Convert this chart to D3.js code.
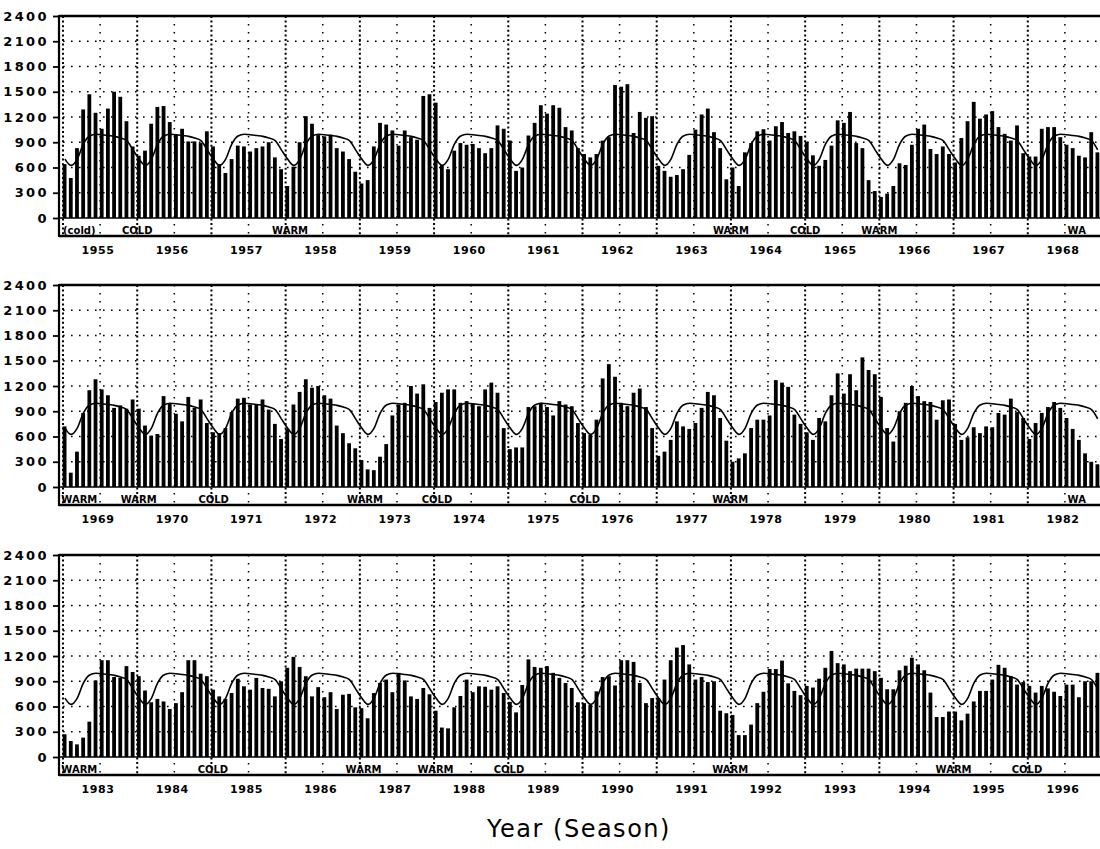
<!DOCTYPE html>
<html>
<head>
<meta charset="utf-8">
<script src="https://cdn.jsdelivr.net/npm/d3@7"></script>
<style>
body { margin: 0; background: #fff; }
svg text { font-family: "DejaVu Sans", sans-serif; fill: #000; }
</style>
</head>
<body>
<svg id="chart" width="1100" height="849"></svg>
<script>
// monthly values, one row per year (Jan..Dec)
var counts1955 = [
  640, 475, 830, 1290, 1470, 1250, 1060, 1300, 1500, 1440, 1150, 850,   // 1955
  740, 800, 1120, 1320, 1330, 1140, 990, 1060, 910, 910, 890, 1030,     // 1956
  850, 640, 535, 700, 860, 850, 790, 830, 850, 900, 720, 580,           // 1957
  380, 610, 900, 1210, 1120, 985, 970, 990, 830, 790, 700, 550,         // 1958
  410, 450, 850, 1130, 1110, 1040, 860, 1040, 960, 930, 1450, 1470,     // 1959
  1370, 630, 580, 800, 890, 870, 880, 830, 770, 830, 1100, 1060,        // 1960
  920, 560, 600, 980, 1130, 1340, 1240, 1340, 1310, 1080, 1040, 830,    // 1961
  760, 720, 760, 920, 960, 1580, 1560, 1590, 1010, 1260, 1190, 1210,    // 1962
  620, 560, 490, 510, 580, 750, 1050, 1230, 1300, 1020, 830, 460,       // 1963
  600, 380, 780, 890, 1030, 1055, 920, 1090, 1140, 1010, 1030, 975,     // 1964
  905, 745, 620, 690, 860, 1160, 1130, 1260, 890, 830, 450, 320,        // 1965
  250, 290, 380, 650, 630, 870, 1060, 1110, 820, 760, 850, 760,         // 1966
  660, 950, 1150, 1380, 1180, 1230, 1270, 1080, 1000, 920, 1100, 770,   // 1967
  730, 730, 1060, 1080, 1080, 960, 870, 830, 740, 720, 1020, 780        // 1968
];
var counts1969 = [
  720, 170, 420, 880, 1150, 1280, 1160, 1090, 940, 970, 930, 1040,      // 1969
  930, 730, 610, 630, 1080, 990, 870, 780, 1070, 940, 1040, 760,        // 1970
  650, 640, 700, 890, 1050, 1060, 980, 980, 1040, 920, 750, 570,        // 1971
  690, 980, 1130, 1280, 1180, 1200, 1090, 1050, 730, 640, 520, 460,     // 1972
  320, 210, 200, 360, 510, 850, 980, 1000, 1200, 1110, 1220, 940,       // 1973
  1010, 1120, 1160, 1160, 1000, 1020, 990, 960, 1160, 1240, 1120, 700,  // 1974
  450, 470, 470, 950, 960, 1000, 950, 850, 1020, 980, 960, 760,         // 1975
  640, 620, 800, 1290, 1460, 1310, 1000, 960, 1120, 1170, 950, 700,     // 1976
  370, 420, 560, 780, 720, 690, 760, 940, 1130, 1090, 820, 550,         // 1977
  300, 340, 400, 700, 800, 800, 850, 1270, 1240, 1190, 860, 750,        // 1978
  650, 560, 820, 780, 1090, 1350, 1110, 1340, 1150, 1540, 1390, 1340,   // 1979
  1070, 700, 540, 900, 1000, 1200, 1080, 1020, 1010, 800, 1030, 1040,   // 1980
  750, 560, 590, 710, 640, 720, 710, 880, 860, 1050, 890, 820,          // 1981
  570, 760, 880, 950, 1010, 940, 820, 690, 560, 400, 300, 270           // 1982
];
var counts1983 = [
  270, 190, 150, 230, 420, 910, 1150, 1150, 950, 940, 1080, 1010,       // 1983
  960, 790, 650, 690, 660, 570, 640, 770, 1150, 1150, 990, 960,         // 1984
  800, 720, 690, 760, 930, 840, 800, 940, 820, 810, 720, 900,           // 1985
  1060, 1190, 1070, 960, 720, 830, 710, 770, 570, 740, 750, 590,        // 1986
  580, 460, 760, 880, 920, 770, 1000, 910, 720, 690, 820, 745,          // 1987
  550, 350, 340, 590, 725, 920, 770, 840, 835, 800, 840, 760,           // 1988
  655, 530, 855, 1160, 1070, 1060, 1080, 1000, 940, 880, 820, 650,      // 1989
  640, 620, 780, 950, 960, 850, 1150, 1150, 1130, 880, 640, 700,        // 1990
  700, 920, 1150, 1300, 1330, 1100, 920, 950, 890, 900, 550, 520,       // 1991
  500, 260, 260, 385, 640, 775, 1045, 1045, 1145, 875, 785, 735,        // 1992
  845, 825, 930, 1060, 1260, 1115, 1100, 1020, 1050, 1050, 1050, 1020,  // 1993
  940, 805, 805, 1030, 1085, 1180, 1100, 1030, 765, 475, 475, 540,      // 1994
  540, 435, 515, 660, 785, 785, 920, 1095, 1060, 960, 860, 890,         // 1995
  845, 765, 845, 815, 775, 725, 860, 860, 710, 900, 900, 1000           // 1996
];

// long-term monthly mean (Jan..Dec), drawn as the curve
var seasonalMean = [700, 625, 700, 880, 975, 995, 990, 980, 970, 950, 920, 810];

var yTicks = [0, 300, 600, 900, 1200, 1500, 1800, 2100, 2400];
var panelStarts = [1955, 1969, 1983];

// WARM / COLD notes under the zero line, position in years
var phase1955 = [
  {t: 1955.22, text: "(cold)"}, {t: 1956.0, text: "COLD"}, {t: 1958.06, text: "WARM"},
  {t: 1964.0, text: "WARM"}, {t: 1965.0, text: "COLD"}, {t: 1966.0, text: "WARM"},
  {t: 1968.66, text: "WA"}
];
var phase1969 = [
  {t: 1969.22, text: "WARM"}, {t: 1970.02, text: "WARM"}, {t: 1971.03, text: "COLD"},
  {t: 1973.07, text: "WARM"}, {t: 1974.04, text: "COLD"}, {t: 1976.03, text: "COLD"},
  {t: 1977.99, text: "WARM"}, {t: 1982.66, text: "WA"}
];
var phase1983 = [
  {t: 1983.22, text: "WARM"}, {t: 1985.02, text: "COLD"}, {t: 1987.05, text: "WARM"},
  {t: 1988.02, text: "WARM"}, {t: 1989.01, text: "COLD"}, {t: 1991.99, text: "WARM"},
  {t: 1995.0, text: "WARM"}, {t: 1995.99, text: "COLD"}
];

var panels = [
  {start: panelStarts[0], values: counts1955, phases: phase1955},
  {start: panelStarts[1], values: counts1969, phases: phase1969},
  {start: panelStarts[2], values: counts1983, phases: phase1983}
];

var svg = d3.select("#chart");
var PLOT_LEFT = 63, PLOT_RIGHT = 1102, AXIS_X = 59, FRAME_RIGHT = 1100;
var PLOT_H = 202;
var panelTops = [16, 285, 555];
var BAR_W = 3.8;

panels.forEach(function(p, i) { drawPanel(p, panelTops[i]); });

svg.append("text")
  .attr("x", 579).attr("y", 837)
  .attr("text-anchor", "middle")
  .style("font-size", "24px")
  .style("letter-spacing", "1.5px")
  .text("Year (Season)");

/**
 * one 14 year strip: grid, bars, mean curve, axis and labels
 */
function drawPanel(p, top) {
  var x = d3.scaleLinear().domain([p.start, p.start + 14]).range([PLOT_LEFT, PLOT_RIGHT]);
  var y = d3.scaleLinear().domain([0, 2400]).range([top + PLOT_H, top]);
  var zeroY = y(0), bottomY = zeroY + 18;
  var years = d3.range(p.start, p.start + 14);
  var g = svg.append("g");

  // dotted horizontal grid
  g.selectAll(".hgrid")
    .data(yTicks.filter(function(v) { return v > 0 && v < 2400; }))
    .enter().append("line")
    .attr("x1", PLOT_LEFT).attr("x2", FRAME_RIGHT)
    .attr("y1", function(d) { return y(d); })
    .attr("y2", function(d) { return y(d); })
    .attr("stroke", "#000")
    .attr("stroke-width", 1.6)
    .attr("stroke-dasharray", "1.6,6.4");

  // year boundaries (dense dots) and mid-year (sparse dots)
  g.selectAll(".ygrid").data(years).enter().append("line")
    .attr("x1", function(d) { return x(d); })
    .attr("x2", function(d) { return x(d); })
    .attr("y1", y(2400)).attr("y2", bottomY)
    .attr("stroke", "#000")
    .attr("stroke-width", 2)
    .attr("stroke-dasharray", "2,2.6");

  g.selectAll(".mgrid").data(years).enter().append("line")
    .attr("x1", function(d) { return x(d + 0.5); })
    .attr("x2", function(d) { return x(d + 0.5); })
    .attr("y1", y(2400)).attr("y2", bottomY)
    .attr("stroke", "#000")
    .attr("stroke-width", 1.5)
    .attr("stroke-dasharray", "1.5,6.5");

  // monthly bars
  g.selectAll(".bar").data(p.values).enter().append("rect")
    .attr("x", function(d, k) { return x(p.start + k / 12) - 0.3; })
    .attr("y", function(d) { return y(d); })
    .attr("width", BAR_W)
    .attr("height", function(d) { return zeroY - y(d); })
    .attr("fill", "#000");

  // mean curve, repeated every year
  var meanLine = d3.line()
    .x(function(d, k) { return x(p.start + k / 12) + BAR_W / 2; })
    .y(function(d) { return y(d); })
    .curve(d3.curveMonotoneX);
  var meanData = p.values.map(function(d, k) { return seasonalMean[k % 12]; });
  g.append("path")
    .attr("d", meanLine(meanData))
    .attr("fill", "none")
    .attr("stroke", "#000")
    .attr("stroke-width", 1.6);

  // frame
  g.append("line").attr("x1", AXIS_X).attr("x2", FRAME_RIGHT)
    .attr("y1", y(2400)).attr("y2", y(2400))
    .attr("stroke", "#000").attr("stroke-width", 2.6);
  g.append("line").attr("x1", AXIS_X).attr("x2", FRAME_RIGHT)
    .attr("y1", zeroY).attr("y2", zeroY)
    .attr("stroke", "#000").attr("stroke-width", 1.6);
  g.append("line").attr("x1", AXIS_X).attr("x2", FRAME_RIGHT)
    .attr("y1", bottomY).attr("y2", bottomY)
    .attr("stroke", "#000").attr("stroke-width", 2.6);
  g.append("line").attr("x1", AXIS_X).attr("x2", AXIS_X)
    .attr("y1", y(2400) - 1).attr("y2", bottomY + 1)
    .attr("stroke", "#000").attr("stroke-width", 2.2);

  // y axis
  var axis = g.append("g")
    .attr("transform", "translate(" + AXIS_X + ",0)")
    .call(d3.axisLeft(y).tickValues(yTicks).tickFormat(d3.format("d")).tickSize(6).tickPadding(4));
  axis.select(".domain").remove();
  axis.selectAll(".tick line").attr("stroke-width", 1.8);
  axis.selectAll(".tick text")
    .style("font-size", "13px")
    .style("font-weight", "bold")
    .style("letter-spacing", "2.4px")
    .style("font-family", "'DejaVu Sans', sans-serif");

  // WARM / COLD notes
  g.selectAll(".phase").data(p.phases).enter().append("text")
    .attr("x", function(d) { return x(d.t); })
    .attr("y", zeroY + 15.5)
    .attr("text-anchor", "middle")
    .style("font-size", "10px")
    .style("font-weight", "bold")
    .text(function(d) { return d.text; });

  // year labels
  g.selectAll(".year").data(years).enter().append("text")
    .attr("x", function(d) { return x(d + 0.5) - 2; })
    .attr("y", zeroY + 36)
    .attr("text-anchor", "middle")
    .style("font-size", "11px")
    .style("font-weight", "bold")
    .style("letter-spacing", "0.6px")
    .text(function(d) { return d; });
}
</script>
</body>
</html>
